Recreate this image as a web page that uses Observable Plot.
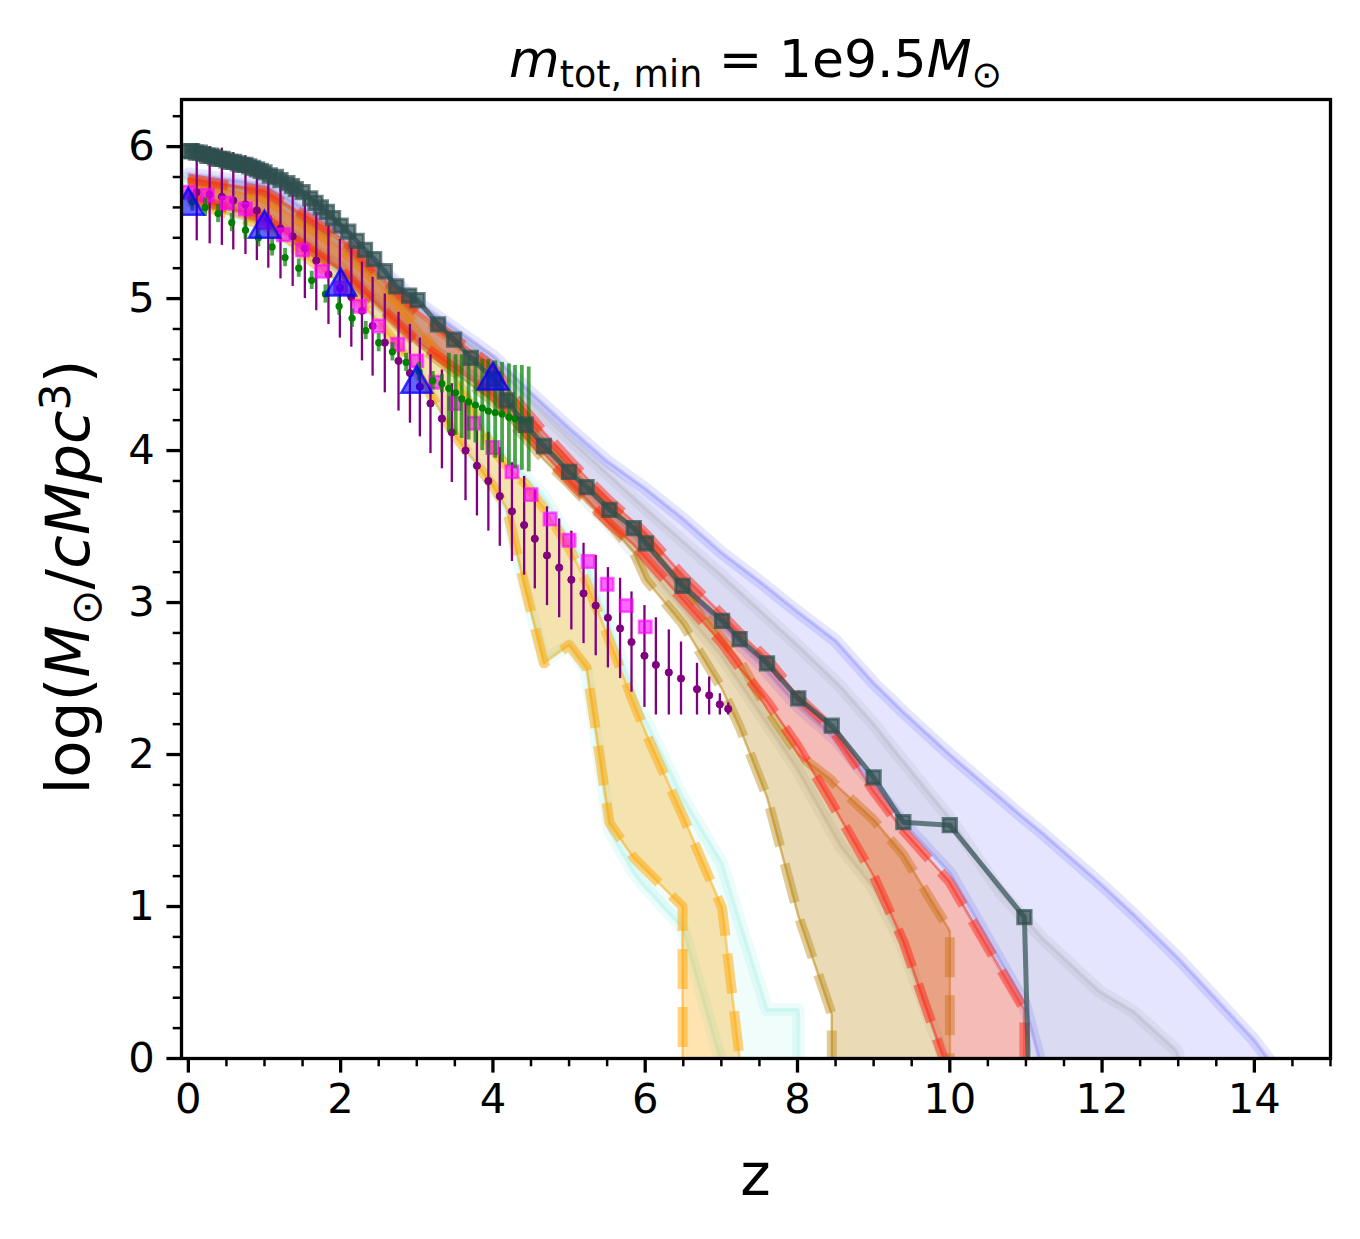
<!DOCTYPE html>
<html><head><meta charset="utf-8">
<script src="https://cdn.jsdelivr.net/npm/d3@7"></script>
<script src="https://cdn.jsdelivr.net/npm/@observablehq/plot@0.6"></script>
<style>
body{margin:0;background:#fff;}
#wrap{position:relative;width:1360px;height:1239px;font-family:"DejaVu Sans";color:#000;}
#wrap svg{position:absolute;left:0;top:0;}
.lab{position:absolute;white-space:nowrap;line-height:1;}
.sub{font-size:70%;position:relative;top:0.28em;}
.sup{font-size:70%;position:relative;top:-0.45em;}
</style></head>
<body><div id="wrap">
<div class="lab" id="title" style="left:181px;width:1149px;top:33px;text-align:center;font-size:52px;"><i>m</i><span class="sub">tot, min</span> = 1e9.5<i>M</i><span class="sub">⊙</span></div>
<div class="lab" id="ylab" style="left:67px;top:577px;font-size:61px;transform-origin:0 0;transform:rotate(-90deg) translate(-50%,-50%);">log(<i>M</i><span class="sub">⊙</span>/<i>cMpc</i><span class="sup">3</span>)</div>
<div class="lab" id="xlab" style="left:181px;width:1149px;top:1146px;text-align:center;font-size:58px;">z</div>
</div>
<script>
// ---- dark slate series (squares + line)
const darkZ = [0,0.05,0.1,0.15,0.2,0.25,0.3,0.35,0.4,0.45,0.5,0.55,0.6,0.65,0.7,0.75,0.8,0.85,0.9,0.95,1.0,1.07,1.15,1.21,1.3,1.36,1.41,1.5,1.6,1.67,1.74,1.82,1.9,2.0,2.1,2.21,2.32,2.44,2.58,2.73,2.9,3.01,3.28,3.49,3.71,4.01,4.18,4.43,4.67,5.0,5.23,5.53,5.85,6.01,6.49,7.01,7.24,7.6,8.01,8.45,9.0,9.39,10.0,10.98,11.98];
const darkY = [5.97,5.97,5.96,5.96,5.95,5.94,5.94,5.93,5.92,5.92,5.91,5.90,5.90,5.89,5.88,5.88,5.87,5.86,5.85,5.84,5.83,5.81,5.80,5.78,5.76,5.74,5.72,5.70,5.66,5.63,5.60,5.57,5.53,5.48,5.44,5.38,5.32,5.26,5.18,5.08,5.02,4.99,4.83,4.73,4.61,4.47,4.33,4.17,4.03,3.86,3.76,3.61,3.49,3.39,3.11,2.88,2.76,2.60,2.37,2.19,1.85,1.555,1.535,0.93,-18];
// ---- magenta squares
const magZ = [0,0.25,0.5,0.75,1.0,1.25,1.5,1.75,2.0,2.25,2.5,2.75,3.0,3.25,3.5,3.75,4.0,4.25,4.5,4.75,5.0,5.25,5.5,5.75,6.0];
const magY = [5.70,5.68,5.63,5.59,5.50,5.42,5.32,5.18,5.07,4.95,4.82,4.70,4.59,4.45,4.31,4.18,4.02,3.86,3.71,3.55,3.41,3.27,3.12,2.98,2.84];
// ---- purple points with error bars
const purZ = [0.11,0.28,0.44,0.59,0.75,0.90,1.05,1.21,1.37,1.53,1.68,1.84,1.99,2.14,2.28,2.42,2.58,2.76,2.91,3.04,3.18,3.33,3.46,3.64,3.79,3.94,4.09,4.25,4.41,4.55,4.71,4.87,5.03,5.19,5.35,5.51,5.67,5.82,5.99,6.14,6.31,6.47,6.68,6.84,6.98,7.09];
const purY = [5.70,5.685,5.67,5.645,5.62,5.58,5.525,5.46,5.41,5.33,5.25,5.16,5.07,5.01,4.92,4.82,4.71,4.59,4.51,4.42,4.31,4.21,4.12,4.00,3.90,3.80,3.70,3.60,3.51,3.42,3.31,3.23,3.15,3.06,2.98,2.90,2.83,2.74,2.65,2.59,2.54,2.50,2.43,2.39,2.33,2.30];
const purHi = [6.02,6.00,5.99,5.96,5.94,5.90,5.85,5.78,5.73,5.65,5.57,5.48,5.39,5.33,5.24,5.14,5.03,4.91,4.83,4.74,4.63,4.53,4.44,4.32,4.13,4.12,4.02,3.92,3.83,3.74,3.63,3.55,3.47,3.39,3.31,3.23,3.16,3.07,2.98,2.90,2.82,2.74,2.60,2.51,2.40,2.34];
const purLo = [5.38,5.36,5.35,5.32,5.29,5.25,5.20,5.13,5.08,5.00,4.92,4.83,4.74,4.68,4.59,4.49,4.38,4.26,4.18,4.09,3.98,3.88,3.79,3.67,3.57,3.47,3.37,3.27,3.18,3.09,2.98,2.90,2.82,2.73,2.65,2.57,2.50,2.41,2.31,2.26,2.26,2.26,2.26,2.26,2.26,2.26];
// ---- green points with error bars
const grnZ = [0.05,0.22,0.39,0.57,0.75,0.92,1.10,1.27,1.45,1.62,1.80,1.98,2.15,2.33,2.50,2.68,2.86,3.03,3.21,3.33,3.42,3.51,3.59,3.68,3.77,3.86,3.94,4.03,4.12,4.21,4.29,4.38,4.47];
const grnY = [5.635,5.60,5.56,5.50,5.45,5.40,5.34,5.27,5.20,5.12,5.03,4.95,4.87,4.79,4.71,4.65,4.58,4.52,4.46,4.44,4.41,4.38,4.34,4.32,4.30,4.28,4.26,4.25,4.24,4.22,4.21,4.20,4.19];
const grnHi = [5.695,5.66,5.62,5.56,5.51,5.46,5.40,5.33,5.26,5.18,5.09,5.01,4.93,4.85,4.77,4.71,4.64,4.58,4.52,4.50,4.64,4.63,4.63,4.62,4.61,4.60,4.60,4.59,4.58,4.57,4.56,4.56,4.55];
const grnLo = [5.575,5.54,5.50,5.44,5.39,5.34,5.28,5.21,5.14,5.06,4.97,4.89,4.81,4.73,4.65,4.59,4.52,4.46,4.40,4.38,4.12,4.10,4.08,4.07,4.05,4.00,3.97,3.95,3.92,3.90,3.88,3.87,3.86];
// ---- blue triangles
const triZ = [0,1,2,3,4];
const triY = [5.61,5.46,5.08,4.44,4.46];
// ---- bands (lower / upper bounds)
const blueZ  = [0,1,2,3,4.01,4.5,5.0,5.5,6.0,6.5,7.0,7.5,8.0,8.5,9.0,9.39,10.0,10.98,11.2,11.98,12.41,13.0,14.0,14.3];
const blueLo = [5.68,5.54,5.20,4.74,4.38,4.15,3.85,3.60,3.36,3.08,2.84,2.60,2.32,2.10,1.80,1.55,1.22,0.36,-0.05,-5,-5,-5,-5,-5];
const blueHi = [5.82,5.75,5.45,4.98,4.62,4.38,4.15,3.93,3.75,3.55,3.33,3.14,2.94,2.75,2.47,2.28,2.00,1.58,1.49,1.15,0.95,0.66,0.12,-0.08];
const grayZ  = [0,1,2,3,4.01,4.5,5.0,6.0,7.0,8.0,8.56,9.0,9.35,10.0,10.66,11.22,11.97,12.41,12.98,13.3];
const grayLo = [5.68,5.54,5.20,4.74,4.37,4.10,3.80,3.25,2.65,1.90,1.40,1.12,0.78,-0.10,-5,-5,-5,-5,-5,-5];
const grayHi = [5.80,5.73,5.43,4.96,4.58,4.32,4.08,3.62,3.18,2.72,2.45,2.20,1.98,1.58,1.10,0.79,0.44,0.31,0.05,-0.5];
const redZ  = [0,1,2,3,4.01,4.18,4.43,4.67,5.0,5.23,5.53,5.85,6.01,6.49,7.01,7.24,7.6,8.01,8.45,9.0,9.39,10.0,10.98,10.99];
const redLo = [5.67,5.53,5.19,4.72,4.36,4.25,4.12,3.98,3.80,3.68,3.52,3.38,3.29,3.02,2.73,2.57,2.35,2.05,1.68,1.20,0.77,-0.12,-5,-5];
const redHi = [5.79,5.71,5.40,4.92,4.55,4.42,4.26,4.12,3.94,3.82,3.67,3.53,3.45,3.18,2.92,2.80,2.63,2.38,2.17,1.76,1.50,1.16,0.32,-5];
const tanZ  = [0,1,2,3,4.01,4.18,4.43,4.67,5.0,5.23,5.53,5.85,6.01,6.49,7.01,7.24,7.6,8.01,8.45,8.46,9.0,9.39,10.0,10.01];
const tanLo = [5.66,5.52,5.18,4.70,4.32,4.22,4.08,3.94,3.78,3.66,3.52,3.33,3.15,2.86,2.43,2.18,1.72,0.94,0.29,-5,-5,-5,-5,-5];
const tanHi = [5.78,5.70,5.38,4.90,4.52,4.38,4.22,4.08,3.90,3.79,3.64,3.50,3.42,3.12,2.76,2.62,2.30,2.00,1.83,1.82,1.57,1.34,0.84,-5];
const orZ  = [0,1,2,2.5,3,3.5,4.01,4.18,4.43,4.67,5.0,5.23,5.53,5.85,6.01,6.49,6.5,7.01,7.24,7.3];
const orLo = [5.64,5.48,5.10,4.85,4.52,4.10,3.76,3.62,3.08,2.60,2.72,2.57,1.55,1.32,1.24,1.00,-5,-5,-5,-5];
const orHi = [5.77,5.66,5.33,5.10,4.82,4.50,4.00,3.90,3.78,3.62,3.36,3.13,2.75,2.34,2.14,1.60,1.59,0.99,0.00,-5];
const cyZ  = [0,1,2,2.5,3,3.5,4.01,4.18,4.43,4.67,5.0,5.23,5.53,5.85,6.01,6.49,7.01,7.24,7.6,8.01,8.07];
const cyLo = [5.64,5.48,5.10,4.85,4.52,4.10,3.76,3.60,3.08,2.62,2.72,2.55,1.50,1.22,1.12,0.86,-0.05,-5,-5,-5,-5];
const cyHi = [5.77,5.67,5.35,5.12,4.84,4.52,4.06,3.95,3.83,3.70,3.42,3.25,2.85,2.40,2.22,1.72,1.28,0.90,0.32,0.32,-5];
// ---- ticks
const xMajor = [0,2,4,6,8,10,12,14];
const xMinor = [0.5,1,1.5,2.5,3,3.5,4.5,5,5.5,6.5,7,7.5,8.5,9,9.5,10.5,11,11.5,12.5,13,13.5,14.5,15];
const yMajor = [0,1,2,3,4,5,6];
const yMinor = [0.2,0.4,0.6,0.8,1.2,1.4,1.6,1.8,2.2,2.4,2.6,2.8,3.2,3.4,3.6,3.8,4.2,4.4,4.6,4.8,5.2,5.4,5.6,5.8,6.2];

const pts = (z, y) => z.map((v, i) => ({z: v, y: y[i]}));
const bars = (z, y, lo, hi) => z.map((v, i) => ({z: v, y: y[i], lo: lo[i], hi: hi[i]}));
const rows = (z, lo, hi) => z.map((v, i) => ({z: v, lo: lo[i], hi: hi[i]}));

function band(z, lo, hi, color, fillOpacity, dashed, edgeOpacity) {
  const d = rows(z, lo, hi);
  const m = [Plot.areaY(d, {x: "z", y1: "lo", y2: "hi", fill: color, fillOpacity, clip: true})];
  for (const k of ["lo", "hi"]) {
    if (dashed) {
      m.push(Plot.line(d, {x: "z", y: k, stroke: color, strokeOpacity: 0.5, strokeWidth: 2.5, clip: true}));
      m.push(Plot.line(d, {x: "z", y: k, stroke: color, strokeOpacity: edgeOpacity, strokeWidth: 10, strokeDasharray: "40,18", strokeLinecap: "butt", strokeLinejoin: "round", clip: true}));
    } else {
      m.push(Plot.line(d, {x: "z", y: k, stroke: color, strokeOpacity: 0.1, strokeWidth: 13, strokeLinejoin: "round", clip: true}));
      m.push(Plot.line(d, {x: "z", y: k, stroke: color, strokeOpacity: 0.15, strokeWidth: 3.5, strokeLinejoin: "round", clip: true}));
    }
  }
  return m;
}

const chart = Plot.plot({
  width: 1360, height: 1239,
  marginLeft: 181, marginRight: 30, marginTop: 99, marginBottom: 181,
  x: {domain: [-0.09, 15]},
  y: {domain: [0, 6.31]},
  style: {fontFamily: "DejaVu Sans", fontSize: "41.7px", background: "white", color: "black"},
  marks: [
    ...band(blueZ, blueLo, blueHi, "#0000ff", 0.1, false),
    ...band(grayZ, grayLo, grayHi, "#808080", 0.1, false),
    ...band(cyZ, cyLo, cyHi, "turquoise", 0.08, false),
    ...band(orZ, orLo, orHi, "orange", 0.3, true, 0.5),
    ...band(tanZ, tanLo, tanHi, "darkgoldenrod", 0.3, true, 0.42),
    ...band(redZ, redLo, redHi, "#ff2a1a", 0.27, true, 0.5),
    // purple error bars + dots
    Plot.ruleX(bars(purZ, purY, purLo, purHi), {x: "z", y1: "lo", y2: "hi", stroke: "purple", strokeWidth: 2.3, clip: true}),
    Plot.dot(pts(purZ, purY), {x: "z", y: "y", r: 3.6, fill: "purple", stroke: "purple", strokeWidth: 1, clip: true}),
    // magenta squares
    Plot.dot(pts(magZ, magY), {x: "z", y: "y", symbol: "square", r: 7, fill: "magenta", fillOpacity: 0.6, stroke: "magenta", strokeOpacity: 0.6, strokeWidth: 2.5, clip: true}),
    // green error bars + dots
    Plot.ruleX(bars(grnZ, grnY, grnLo, grnHi), {x: "z", y1: "lo", y2: "hi", stroke: "green", strokeOpacity: 0.7, strokeWidth: 3.8, clip: true}),
    Plot.dot(pts(grnZ, grnY), {x: "z", y: "y", r: 3.6, fill: "green", clip: true}),
    // dark slate gray line + squares
    Plot.line(pts(darkZ, darkY), {x: "z", y: "y", stroke: "#2f4f4f", strokeOpacity: 0.7, strokeWidth: 5, strokeLinejoin: "round", clip: true}),
    Plot.dot(pts(darkZ, darkY), {x: "z", y: "y", symbol: "square", r: 7.5, fill: "#2f4f4f", fillOpacity: 0.7, stroke: "#2f4f4f", strokeOpacity: 0.7, strokeWidth: 3, clip: true}),
    // blue triangles
    Plot.dot(pts(triZ, triY), {x: "z", y: "y", symbol: "triangle", r: 11.5, fill: "blue", fillOpacity: 0.6, stroke: "blue", strokeOpacity: 0.75, strokeWidth: 2.5, clip: true}),
    // axes
    Plot.axisX({ticks: xMinor, tickSize: 8.3, strokeWidth: 2.5, tickFormat: () => "", label: null}),
    Plot.axisY({ticks: yMinor, tickSize: 8.3, strokeWidth: 2.5, tickFormat: () => "", label: null}),
    Plot.axisX({ticks: xMajor, tickSize: 14.6, tickPadding: 10, strokeWidth: 3.3, fontSize: 41.7, tickFormat: d => String(d), label: null}),
    Plot.axisY({ticks: yMajor, tickSize: 14.6, tickPadding: 12, strokeWidth: 3.3, fontSize: 41.7, tickFormat: d => String(d), label: null}),
    Plot.frame({stroke: "black", strokeWidth: 3.3})
  ]
});
document.getElementById("wrap").prepend(chart);
</script>
</body></html>
